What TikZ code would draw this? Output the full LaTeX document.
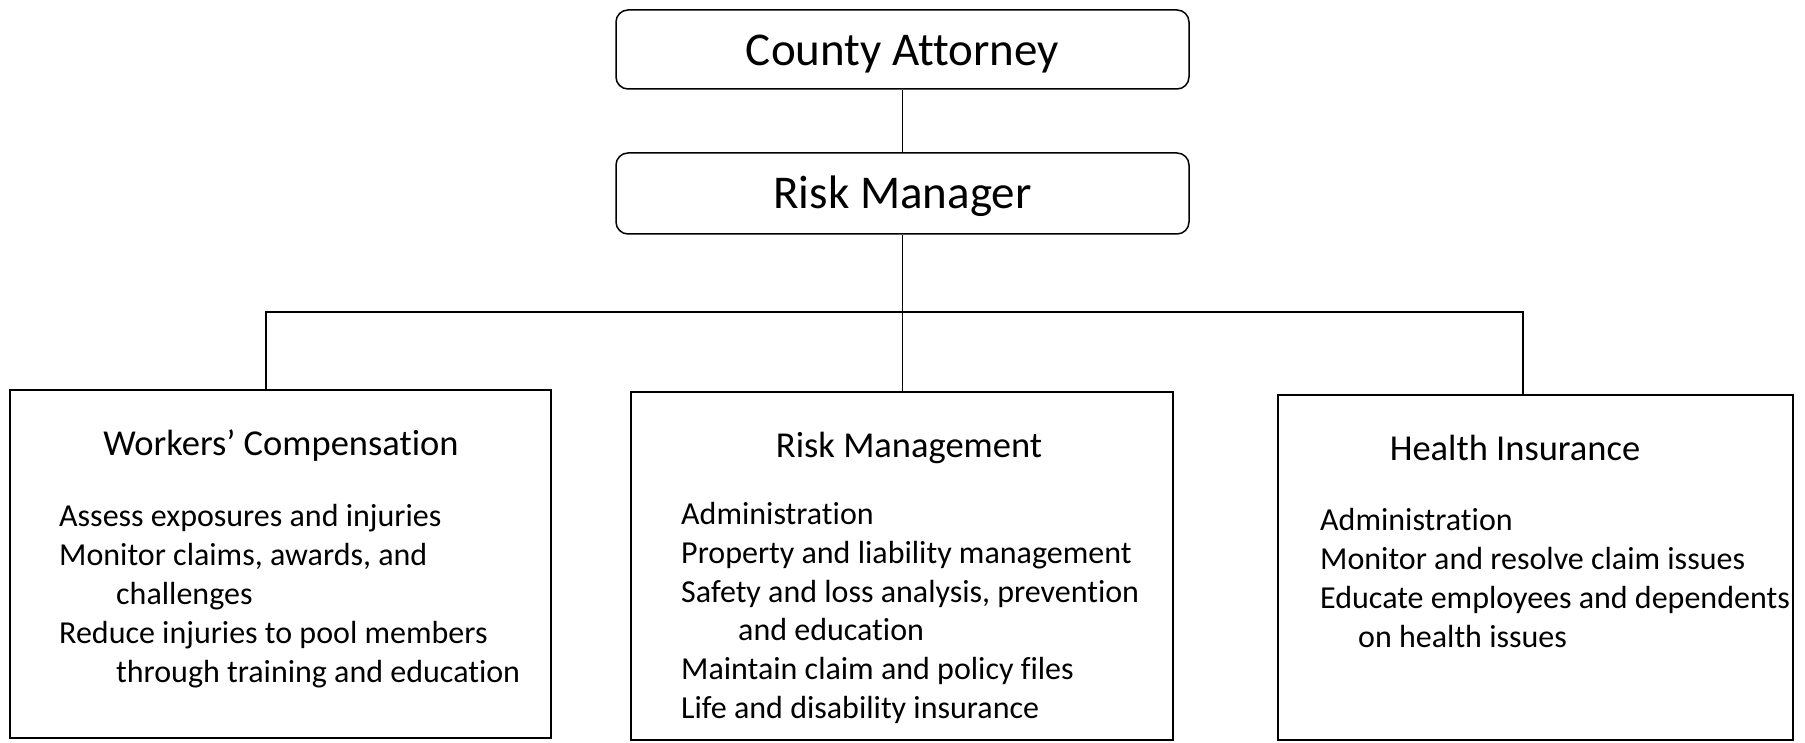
\documentclass[tikz,border=0pt]{standalone}
\usepackage{fontspec}
\setmainfont{Carlito}[Ligatures={NoCommon}]
\begin{document}
\begin{tikzpicture}[x=1pt,y=-1pt,
  topbox/.style={draw, line width=1.5pt, rounded corners=12pt, minimum width=573pt, inner sep=0pt, font=\fontsize{47}{56}\selectfont},
  unitbox/.style={draw, line width=1.6pt, inner sep=0pt},
  heading/.style={anchor=base, inner sep=0pt, font=\fontsize{36.5}{44}\selectfont},
  body/.style={anchor=base west, inner sep=0pt, align=left, font=\fontsize{32}{38.8}\selectfont},
  link/.style={line width=1.5pt}]
\useasboundingbox (0,0) rectangle (1805,743);
\fill[white] (0,0) rectangle (1805,743);
\node[topbox, minimum height=79pt, text height=42pt, text depth=9pt] (ca) at (902.5,49.5) {County Attorney};
\node[topbox, minimum height=81pt, text height=40pt, text depth=9pt] (rm) at (902.5,193.5) {Risk Manager};
\node[unitbox, minimum width=541pt, minimum height=348pt] (wc) at (280.5,564) {};
\node[unitbox, minimum width=542pt, minimum height=348pt] (mid) at (902,566) {};
\node[unitbox, minimum width=515pt, minimum height=345pt] (hi) at (1535.5,567.5) {};
\coordinate (jl) at (266,312);
\coordinate (jr) at (1523,312);
\draw[link] (ca) -- (rm);
\draw[link] (rm.south) -- (rm.south |- mid.north);
\draw[link] (wc.north -| jl) |- (jr) -- (hi.north -| jr);
\node[heading] (wch) at (281,455) {Workers’ Compensation};
\node[heading] (midh) at (909,457) {Risk Management};
\node[heading] (hih) at (1515,460) {Health Insurance};
\node[body] (wcb) at (59,682) {Assess exposures and injuries\\Monitor claims, awards, and\\\hspace*{57pt}challenges\\Reduce injuries to pool members\\\hspace*{57pt}through training and education};
\node[body] (midb) at (681,718.5) {Administration\\Property and liability management\\Safety and loss analysis, prevention\\\hspace*{57pt}and education\\Maintain claim and policy files\\Life and disability insurance};
\node[body] (hib) at (1320,647) {Administration\\Monitor and resolve claim issues\\Educate employees and dependents\\\hspace*{38pt}on health issues};
\end{tikzpicture}
\end{document}
